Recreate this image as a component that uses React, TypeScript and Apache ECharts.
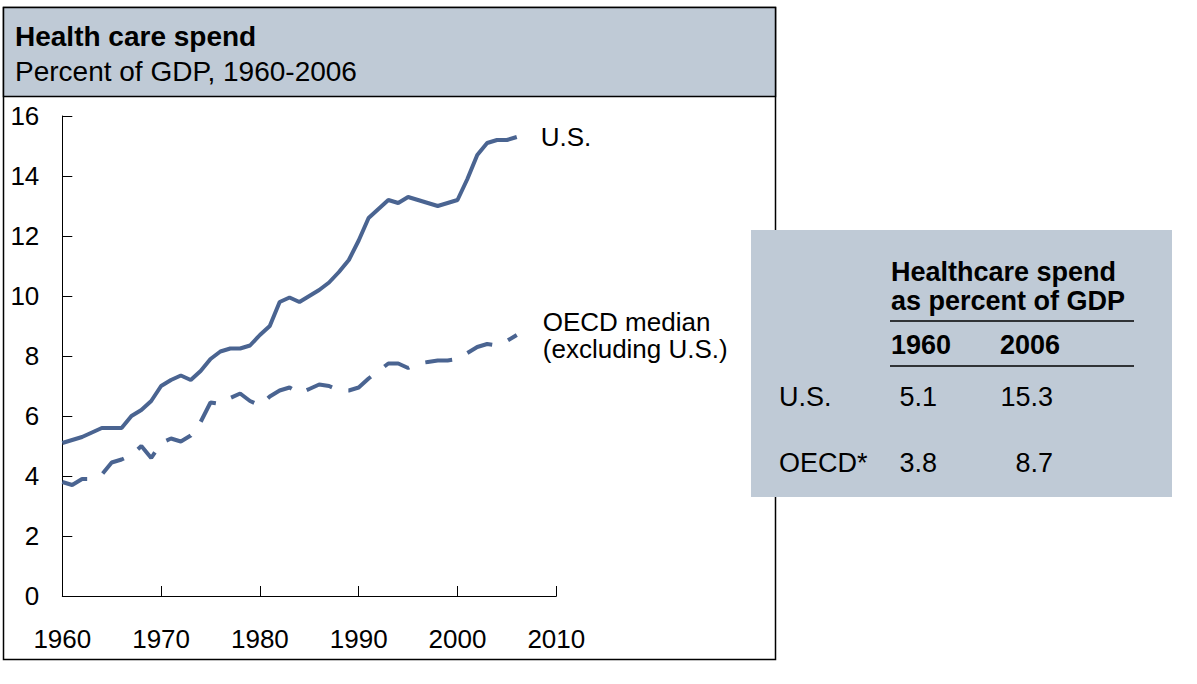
import React, { useEffect, useRef } from "react";
import * as echarts from "echarts";

const years = [
  1960, 1961, 1962, 1963, 1964, 1965, 1966, 1967, 1968, 1969,
  1970, 1971, 1972, 1973, 1974, 1975, 1976, 1977, 1978, 1979,
  1980, 1981, 1982, 1983, 1984, 1985, 1986, 1987, 1988, 1989,
  1990, 1991, 1992, 1993, 1994, 1995, 1996, 1997, 1998, 1999,
  2000, 2001, 2002, 2003, 2004, 2005, 2006,
];

const usSpend = [
  5.1, 5.2, 5.3, 5.45, 5.6, 5.6, 5.6, 6.0, 6.2, 6.5,
  7.0, 7.2, 7.35, 7.2, 7.5, 7.9, 8.15, 8.25, 8.25, 8.35,
  8.7, 9.0, 9.8, 9.95, 9.8, 10.0, 10.2, 10.45, 10.8, 11.2,
  11.85, 12.6, 12.9, 13.2, 13.1, 13.3, 13.2, 13.1, 13.0, 13.1,
  13.2, 13.9, 14.7, 15.1, 15.2, 15.2, 15.3,
];

const oecdMedian = [
  3.8, 3.7, 3.9, 3.9, 4.05, 4.45, 4.55, 4.7, 5.0, 4.6,
  5.1, 5.25, 5.15, 5.35, 5.8, 6.45, 6.4, 6.6, 6.75, 6.5,
  6.35, 6.65, 6.85, 6.95, 6.75, 6.9, 7.05, 7.0, 6.85, 6.85,
  6.95, 7.25, 7.5, 7.75, 7.75, 7.6, 7.75, 7.8, 7.85, 7.85,
  7.9, 8.1, 8.3, 8.4, 8.35, 8.5, 8.7,
];

const xTicks = { min: 1960, max: 2010, interval: 10 };
const yTicks = { min: 0, max: 16, interval: 2 };

const tableHeader = ["Healthcare spend", "as percent of GDP"];
const tableYears = ["1960", "2006"];
const tableRows = ["U.S.", "OECD*"];
const tableUS = ["5.1", "15.3"];
const tableOECD = ["3.8", "8.7"];

const FONT = "'Liberation Sans', Arial, sans-serif";
const LINE = "#4A6491";
const PANEL = "#BFCAD6";

function txt(text: string, x: number, y: number, size: number, bold = false, align = "left") {
  return {
    type: "text",
    x,
    y,
    z: 100,
    style: {
      text,
      fontSize: size,
      fontFamily: FONT,
      fontWeight: bold ? "bold" : "normal",
      fill: "#000",
      textAlign: align,
      align,
      textVerticalAlign: "middle",
      verticalAlign: "middle",
    },
  };
}

export default function App() {
  const ref = useRef<HTMLDivElement>(null);

  useEffect(() => {
    if (!ref.current) return;
    const chart = echarts.init(ref.current, null, { renderer: "svg" });

    const usData = years.map((y, i) => [y, usSpend[i]]);
    const oecdData = years.map((y, i) => [y, oecdMedian[i]]);

    const graphic: any[] = [
      {
        type: "rect",
        z: 0,
        shape: { x: 3.5, y: 7.5, width: 772, height: 652 },
        style: { fill: "#fff", stroke: "#000", lineWidth: 1.5 },
        silent: true,
      },
      {
        type: "rect",
        z: 1,
        shape: { x: 3.5, y: 7.5, width: 772, height: 89 },
        style: { fill: PANEL, stroke: "#000", lineWidth: 1.5 },
        silent: true,
      },
      txt("Health care spend", 15, 36, 28, true),
      txt("Percent of GDP, 1960-2006", 15, 71, 28, false),
      {
        type: "rect",
        z: 50,
        shape: { x: 751, y: 230, width: 421, height: 267 },
        style: { fill: PANEL },
        silent: true,
      },
      txt(tableHeader[0], 891, 272, 27, true),
      txt(tableHeader[1], 891, 301, 27, true),
      {
        type: "line",
        z: 60,
        shape: { x1: 890, y1: 321, x2: 1134, y2: 321 },
        style: { stroke: "#000", lineWidth: 1.5 },
      },
      txt(tableYears[0], 891, 345, 27, true),
      txt(tableYears[1], 1000, 345, 27, true),
      {
        type: "line",
        z: 60,
        shape: { x1: 890, y1: 366, x2: 1134, y2: 366 },
        style: { stroke: "#000", lineWidth: 1.5 },
      },
      txt(tableRows[0], 779, 397, 27),
      txt(tableUS[0], 937, 397, 27, false, "right"),
      txt(tableUS[1], 1053, 397, 27, false, "right"),
      txt(tableRows[1], 779, 463, 27),
      txt(tableOECD[0], 937, 463, 27, false, "right"),
      txt(tableOECD[1], 1053, 463, 27, false, "right"),
    ];

    chart.setOption({
      animation: false,
      backgroundColor: "#fff",
      textStyle: { fontFamily: FONT },
      graphic,
      grid: { left: 62.3, top: 116, width: 494, height: 480, containLabel: false },
      xAxis: {
        type: "value",
        min: xTicks.min,
        max: xTicks.max,
        interval: xTicks.interval,
        z: 10,
        axisLine: { show: true, onZero: false, lineStyle: { color: "#000", width: 1 } },
        axisTick: { show: true, inside: true, length: 10, lineStyle: { color: "#000", width: 1 } },
        axisLabel: {
          show: true,
          margin: 30,
          fontSize: 26,
          color: "#000",
          fontFamily: FONT,
          formatter: (v: number) => String(v),
        },
        splitLine: { show: false },
      },
      yAxis: {
        type: "value",
        min: yTicks.min,
        max: yTicks.max,
        interval: yTicks.interval,
        z: 10,
        axisLine: { show: true, lineStyle: { color: "#000", width: 1 } },
        axisTick: { show: true, inside: true, length: 10, lineStyle: { color: "#000", width: 1 } },
        axisLabel: { show: true, margin: 23, fontSize: 26, color: "#000", fontFamily: FONT },
        splitLine: { show: false },
      },
      series: [
        {
          name: "U.S.",
          type: "line",
          data: usData,
          symbol: "none",
          z: 20,
          lineStyle: { color: LINE, width: 4 },
          endLabel: {
            show: true,
            formatter: "U.S.",
            distance: 24,
            fontSize: 26,
            color: "#000",
            fontFamily: FONT,
          },
        },
        {
          name: "OECD median (excluding U.S.)",
          type: "line",
          data: oecdData,
          symbol: "none",
          z: 20,
          lineStyle: { color: LINE, width: 4, type: [27, 17] },
          endLabel: {
            show: true,
            formatter: "OECD median\n(excluding U.S.)",
            distance: 26,
            fontSize: 26,
            lineHeight: 27,
            color: "#000",
            fontFamily: FONT,
          },
        },
      ],
    });

    return () => chart.dispose();
  }, []);

  return (
    <div
      ref={ref}
      style={{ position: "absolute", left: 0, top: 0, width: 1197, height: 684 }}
    />
  );
}
